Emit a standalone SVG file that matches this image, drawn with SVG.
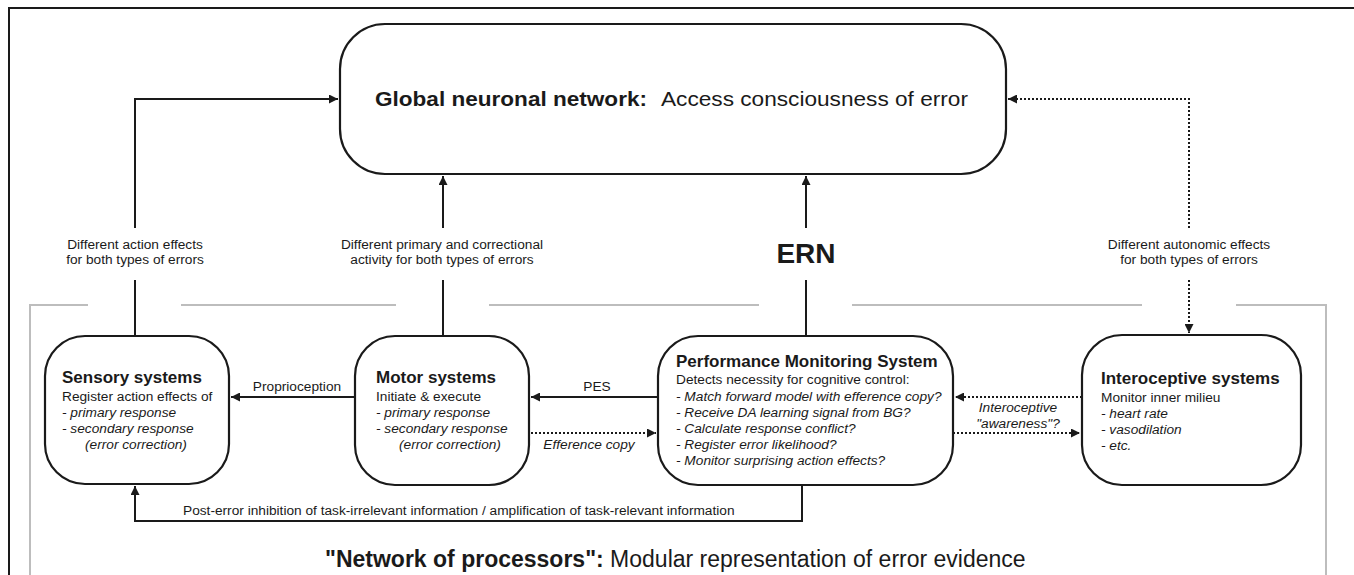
<svg xmlns="http://www.w3.org/2000/svg" width="1354" height="575" viewBox="0 0 1354 575">
<style>
text{font-family:"Liberation Sans",Arial,sans-serif;fill:#1a1a1a}
.box{fill:#fff;stroke:#1a1a1a;stroke-width:2.2}
.ln{fill:none;stroke:#1a1a1a;stroke-width:2}
.dot{fill:none;stroke:#1a1a1a;stroke-width:2;stroke-dasharray:2 2}
.gray{fill:none;stroke:#bdbdbd;stroke-width:2}
.t{font-size:13.7px}
.h{font-size:17px;font-weight:bold}
.s{font-size:13.7px}
.i{font-style:italic}
</style>
<defs>
<marker id="ah" viewBox="0 0 10 10" refX="10" refY="5" markerWidth="9" markerHeight="9" markerUnits="userSpaceOnUse" orient="auto"><path d="M0,0 L10,5 L0,10 z" fill="#1a1a1a"/></marker>
</defs>
<rect width="1354" height="575" fill="#fff"/>
<path class="ln" d="M9,575 V8 H1354" stroke-width="1.5"/>
<g id="frame">
<path class="gray" d="M30,575 V305 H88"/>
<path class="gray" d="M181,305 H396"/>
<path class="gray" d="M489,305 H759"/>
<path class="gray" d="M852,305 H1142"/>
<path class="gray" d="M1236,305 H1326 V575"/>
</g>
<g id="connectors">
<path class="ln" d="M135,228 V99 H338" marker-end="url(#ah)"/>
<path class="ln" d="M135,280 V336"/>
<path class="ln" d="M443,228 V176" marker-end="url(#ah)"/>
<path class="ln" d="M443,280 V336"/>
<path class="ln" d="M806,228 V176" marker-end="url(#ah)"/>
<path class="ln" d="M806,280 V336"/>
<path class="dot" d="M1189,228 V99 H1008" marker-end="url(#ah)"/>
<path class="dot" d="M1189,280 V333" marker-end="url(#ah)"/>
<path class="ln" d="M355,397 H231" marker-end="url(#ah)"/>
<path class="ln" d="M658,397 H531" marker-end="url(#ah)"/>
<path class="dot" d="M531,433 H656" marker-end="url(#ah)"/>
<path class="dot" d="M1082,397 H955" marker-end="url(#ah)"/>
<path class="dot" d="M953,433 H1080" marker-end="url(#ah)"/>
<path class="ln" d="M802,485 V521 H135 V486" marker-end="url(#ah)"/>
<text class="s" text-anchor="middle" x="135" y="249">Different action effects</text>
<text class="s" text-anchor="middle" x="135" y="264">for both types of errors</text>
<text class="s" text-anchor="middle" x="442" y="249">Different primary and correctional</text>
<text class="s" text-anchor="middle" x="442" y="264">activity for both types of errors</text>
<text text-anchor="middle" x="806" y="263" font-size="28" font-weight="bold">ERN</text>
<text class="s" text-anchor="middle" x="1189" y="249">Different autonomic effects</text>
<text class="s" text-anchor="middle" x="1189" y="264">for both types of errors</text>
<text class="t" text-anchor="middle" x="297" y="391">Proprioception</text>
<text class="t" text-anchor="middle" x="597" y="391">PES</text>
<text class="t i" text-anchor="middle" x="589" y="449">Efference copy</text>
<text class="t i" text-anchor="middle" x="1018" y="412">Interoceptive</text>
<text class="t i" text-anchor="middle" x="1018" y="428">"awareness"?</text>
<text class="t" x="183" y="515">Post-error inhibition of task-irrelevant information / amplification of task-relevant information</text>
</g>
<g id="global">
<rect class="box" x="340" y="24" width="666" height="150" rx="45"/>
<text x="375" y="106" font-size="21" font-weight="bold" textLength="272" lengthAdjust="spacingAndGlyphs">Global neuronal network:</text>
<text x="661" y="106" font-size="21" textLength="307" lengthAdjust="spacingAndGlyphs">Access consciousness of error</text>
</g>
<g id="sensory">
<rect class="box" x="45" y="336" width="184" height="148" rx="40"/>
<text class="h" x="62" y="383">Sensory systems</text>
<text class="t" x="62" y="401">Register action effects of</text>
<text class="t i" x="62" y="417">- primary response</text>
<text class="t i" x="62" y="433">- secondary response</text>
<text class="t i" x="85" y="449">(error correction)</text>
</g>
<g id="motor">
<rect class="box" x="355" y="336" width="174" height="149" rx="40"/>
<text class="h" x="376" y="383">Motor systems</text>
<text class="t" x="376" y="401">Initiate &amp; execute</text>
<text class="t i" x="376" y="417">- primary response</text>
<text class="t i" x="376" y="433">- secondary response</text>
<text class="t i" x="399" y="449">(error correction)</text>
</g>
<g id="pms">
<rect class="box" x="658" y="336" width="295" height="149" rx="40"/>
<text class="h" x="676" y="367">Performance Monitoring System</text>
<text class="t" x="676" y="384">Detects necessity for cognitive control:</text>
<text class="t i" x="676" y="401">- Match forward model with efference copy?</text>
<text class="t i" x="676" y="417">- Receive DA learning signal from BG?</text>
<text class="t i" x="676" y="433">- Calculate response conflict?</text>
<text class="t i" x="676" y="449">- Register error likelihood?</text>
<text class="t i" x="676" y="465">- Monitor surprising action effects?</text>
</g>
<g id="interoceptive">
<rect class="box" x="1082" y="335" width="219" height="150" rx="40"/>
<text class="h" x="1101" y="384">Interoceptive systems</text>
<text class="t" x="1101" y="402">Monitor inner milieu</text>
<text class="t i" x="1101" y="418">- heart rate</text>
<text class="t i" x="1101" y="434">- vasodilation</text>
<text class="t i" x="1101" y="450">- etc.</text>
</g>
<g id="title">
<text x="325" y="567" font-size="23"><tspan font-weight="bold">"Network of processors":</tspan> Modular representation of error evidence</text>
</g>
</svg>
